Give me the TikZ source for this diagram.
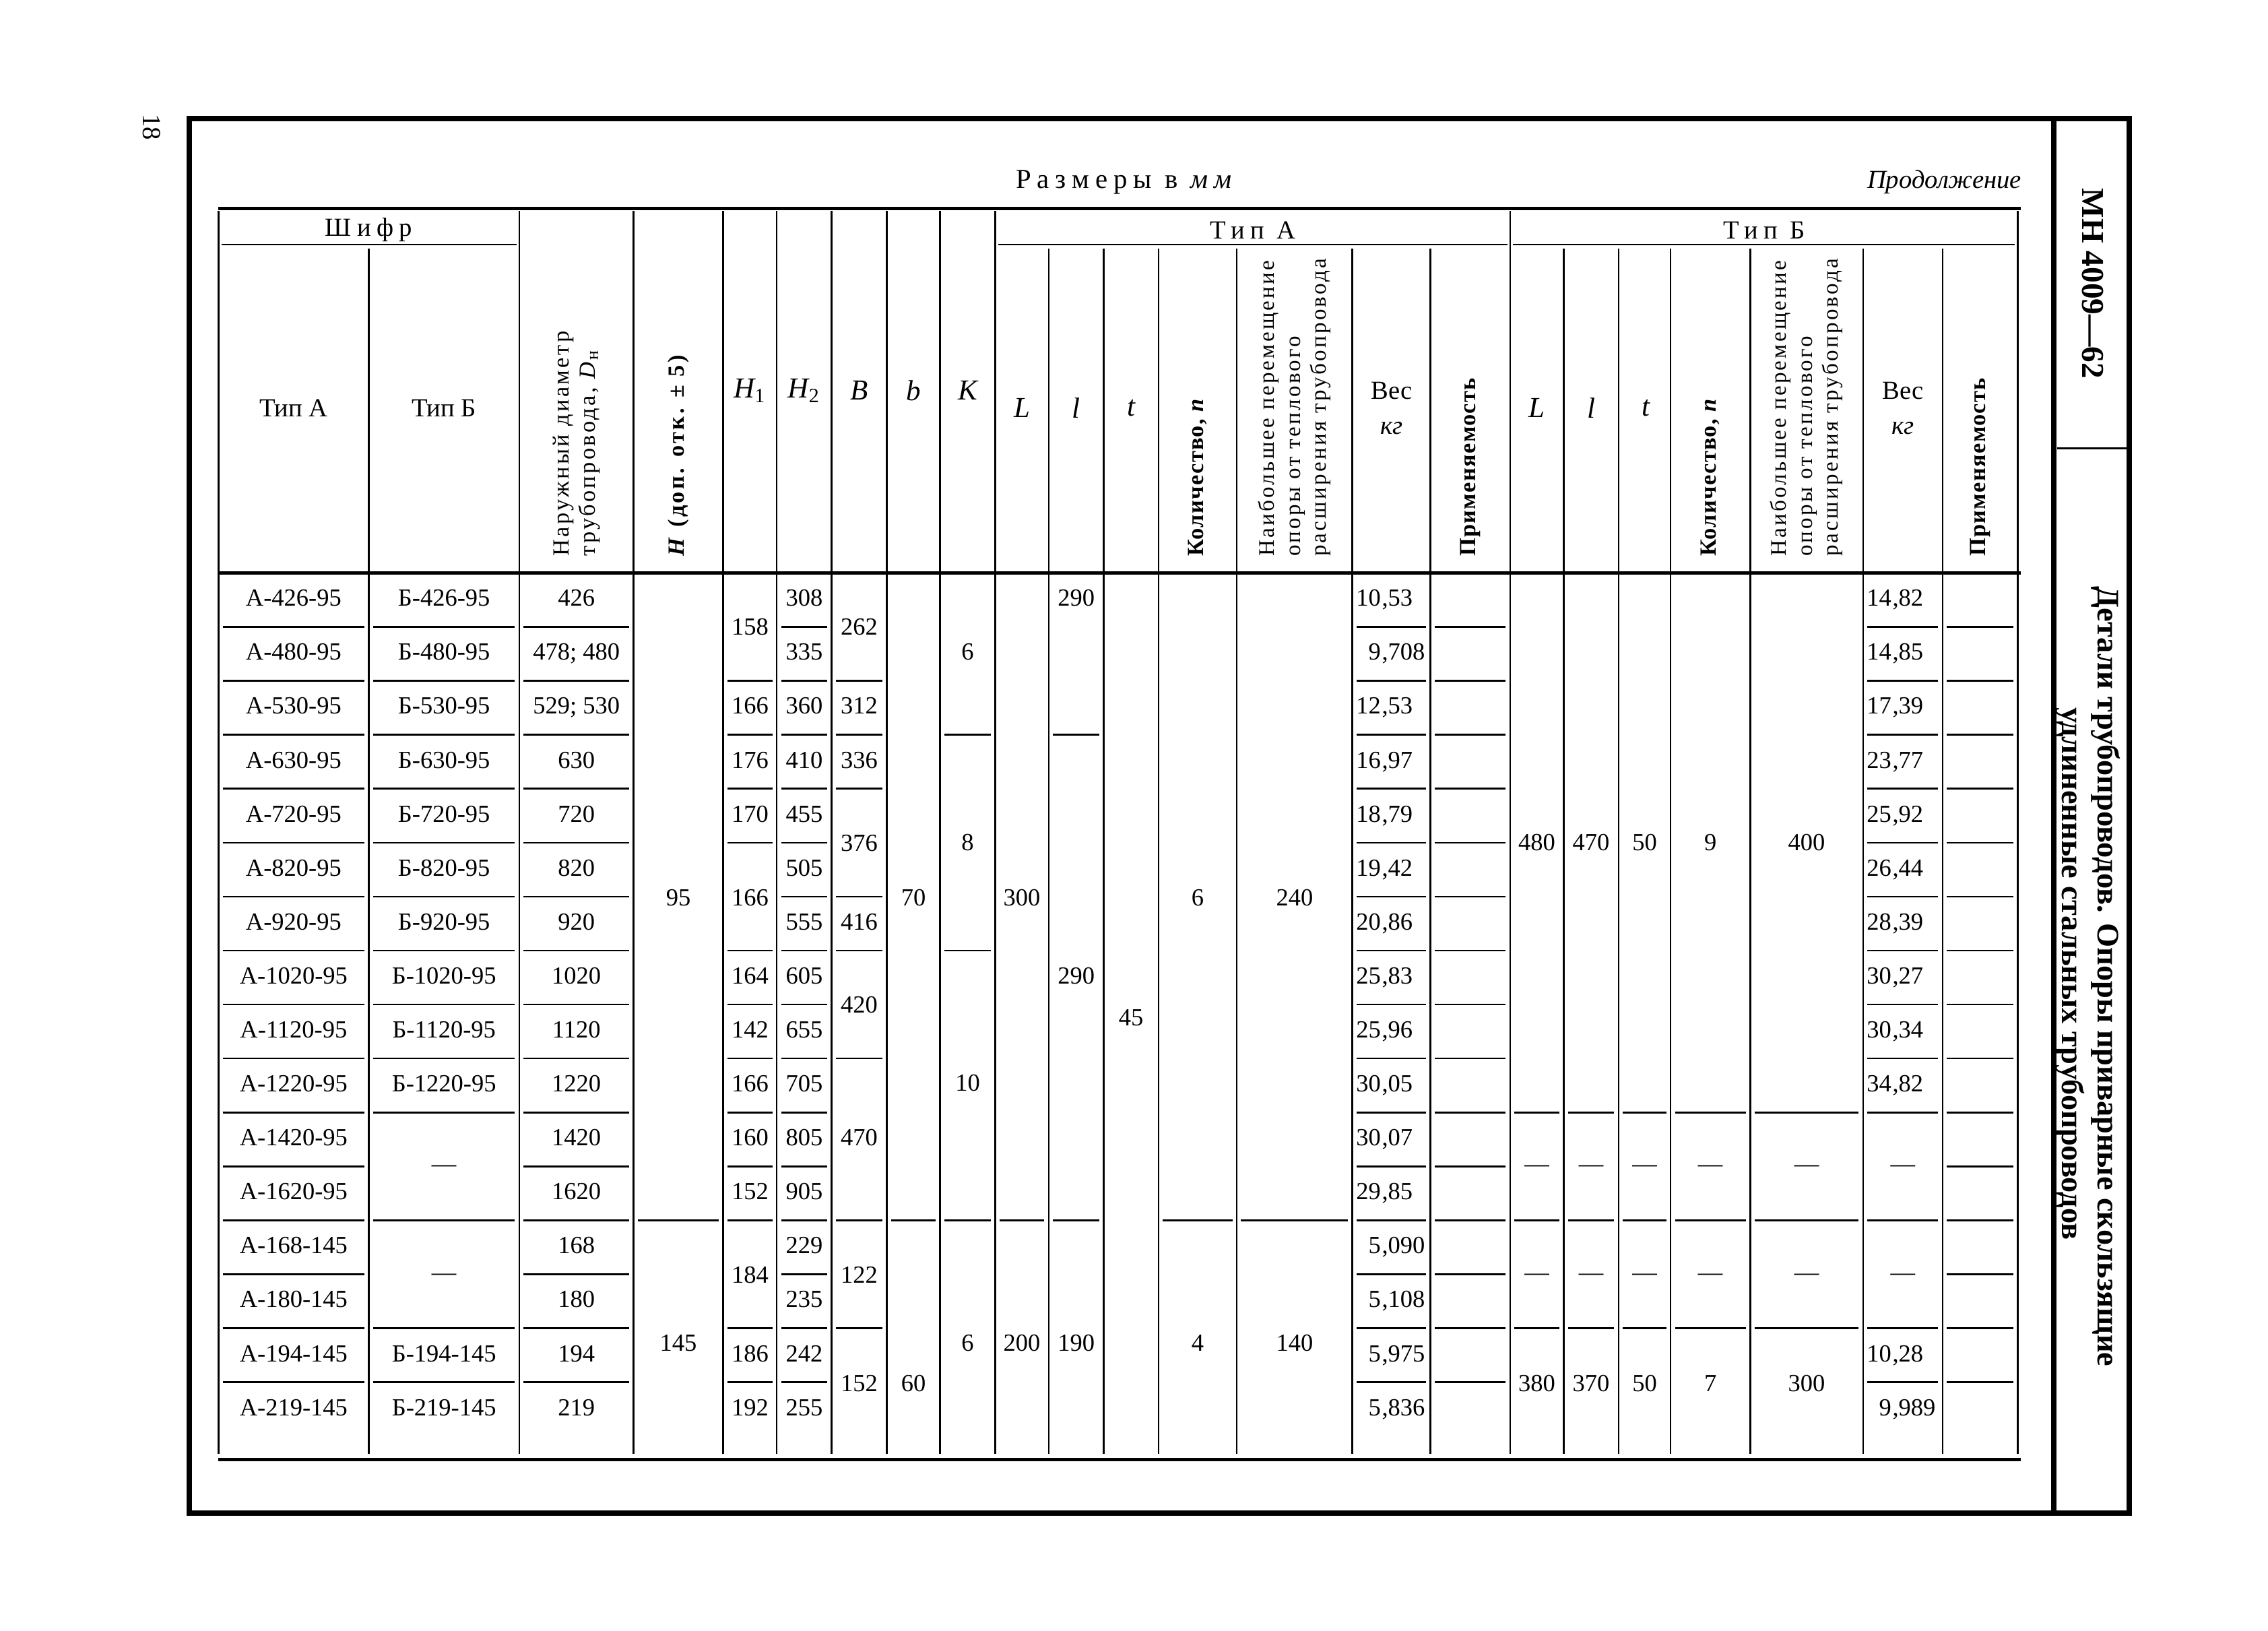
\documentclass[tikz,border=0pt]{standalone}
\usepackage{fontspec}
\setmainfont{Liberation Serif}
\newfontfamily\widefont[LetterSpace=10]{Liberation Serif}
\newfontfamily\boldwidefont[LetterSpace=4]{Liberation Serif}
\newfontfamily\spacedfont[LetterSpace=22]{Liberation Serif}
\usetikzlibrary{calc}

\tikzset{
  every node/.style={inner sep=0pt},
  cell/.style={anchor=base, font=\fontsize{8.5}{10}\selectfont},
  dashcell/.style={font=\fontsize{8.5}{10}\selectfont},
  sym/.style={font=\itshape\fontsize{10}{12}\selectfont},
  hdr/.style={rotate=90, anchor=west, align=left, font=\widefont\fontsize{8}{9.2}\selectfont},
  boldhdr/.style={hdr, font=\boldwidefont\bfseries\fontsize{8}{9.2}\selectfont},
  sepline/.style={line width=0.6pt},
  heavyrule/.style={line width=1.1pt},
  framerule/.style={line width=1.8pt}
}

\begin{document}
\begin{tikzpicture}[x=0.5pt, y=-0.5pt]
\useasboundingbox (0,0) rectangle (1568,1127);

% page frame and title block
\draw[framerule] (131,82) -- (1472,82) -- (1472,1046) -- (131,1046) -- cycle;
\draw[framerule] (1420,84) -- (1420,1044);
\draw[sepline] (1422,310) -- (1470,310);
\node[rotate=-90, font=\bfseries\fontsize{11}{12}\selectfont] (code) at (1447,196) {МН 4009—62};
\node[rotate=-90, font=\bfseries\fontsize{10.8}{12}\selectfont] (title1) at (1456,675) {Детали трубопроводов. Опоры приварные скользящие};
\node[rotate=-90, font=\bfseries\fontsize{10.8}{12}\selectfont] (title2) at (1431,673) {удлиненные стальных трубопроводов};
\node[rotate=-90, font=\fontsize{9}{10}\selectfont] (page) at (105,88) {18};

\node[font=\spacedfont\fontsize{9.5}{10}\selectfont] (units) at (779,126) {Размеры в \textit{мм}};
\node[anchor=east, font=\itshape\fontsize{9}{10}\selectfont] (cont) at (1398,126) {Продолжение};

% rules of the table
\draw[heavyrule] (151,144) -- (1397,144);
\draw[heavyrule] (151,396) -- (1397,396);
\draw[heavyrule] (151,1009) -- (1397,1009);
\foreach \x in {151,359,438,500,537,575,613,650,688,1044,1395}
  \draw[sepline] (\x,146) -- (\x,396);
\foreach \x in {255,725,763,801,855,935,989,1081,1119,1155,1210,1288,1343}
  \draw[sepline] (\x,172) -- (\x,396);
\draw[sepline] (153,169) -- (357,169);
\draw[sepline] (690,169) -- (1042,169);
\draw[sepline] (1046,169) -- (1393,169);
\foreach \x in {151,255,359,438,500,537,575,613,650,688,725,763,801,855,935,989,1044,1081,1119,1155,1210,1288,1343,1395}
  \draw[sepline] (\x,396) -- (\x,1005);

% short rules between the rows
\foreach \xl/\xr/\rows in {151/255/{1,...,15}, 255/359/{1,...,10,12,14,15}, 359/438/{1,...,15},
    438/500/{12}, 500/537/{2,3,4,5,7,8,9,10,11,12,14,15}, 537/575/{1,...,15},
    575/613/{2,3,4,6,7,9,12,14}, 613/650/{12}, 650/688/{3,7,12}, 688/725/{12}, 725/763/{3,12},
    801/855/{12}, 855/935/{12}, 935/989/{1,...,15}, 989/1044/{1,...,15},
    1044/1081/{10,12,14}, 1081/1119/{10,12,14}, 1119/1155/{10,12,14}, 1155/1210/{10,12,14},
    1210/1288/{10,12,14}, 1288/1343/{1,...,10,12,14,15}, 1343/1395/{1,...,15}}
  \foreach \k in \rows
    \draw[sepline] (\xl+3,396+37.3*\k) -- (\xr-3,396+37.3*\k);

% header
\node[font=\spacedfont\fontsize{9}{10}\selectfont] (shifr) at (255,159) {Шифр};
\node[font=\fontsize{9}{10}\selectfont] (hta) at (203,282) {Тип А};
\node[font=\fontsize{9}{10}\selectfont] (htb) at (307,282) {Тип Б};
\node[hdr] (hd) at (398.5,385) {Наружный диаметр\\трубопровода, \textit{D}\textsubscript{н}};
\node[hdr, font=\widefont\bfseries\fontsize{8}{9.2}\selectfont] (hh) at (469,385) {\textit{H} (доп. отк. ± 5)};
\node[sym] (hh1) at (518.5,270) {H\textsubscript{\upshape 1}};
\node[sym] (hh2) at (556,270) {H\textsubscript{\upshape 2}};
\node[sym] (hbb) at (594,270) {B};
\node[sym] (hsb) at (631.5,270) {b};
\node[sym] (hk) at (669,270) {K};
\node[font=\spacedfont\fontsize{9}{10}\selectfont] (grpa) at (866,159) {Тип А};
\node[font=\spacedfont\fontsize{9}{10}\selectfont] (grpb) at (1219.5,159) {Тип Б};
\foreach \s/\x in {a/688, b/1044} {
  \node[sym] (hl\s) at (\x+18.5,282) {L};
  \node[sym] (hll\s) at (\x+56,282) {l};
  \node[sym] (ht\s) at (\x+94,282) {t};
}
\node[boldhdr] (hna) at (828,385) {Количество, \textit{n}};
\node[hdr, font=\widefont\fontsize{7.7}{9}\selectfont] (hma) at (895,385) {Наибольшее перемещение\\опоры от теплового\\расширения трубопровода};
\node[font=\fontsize{9}{10}\selectfont] (hwa) at (962,270) {Вес};
\node[font=\itshape\fontsize{9}{10}\selectfont] (hkga) at (962,296) {кг};
\node[boldhdr] (hpa) at (1016.5,385) {Применяемость};
\node[boldhdr] (hnb) at (1182.5,385) {Количество, \textit{n}};
\node[hdr, font=\widefont\fontsize{7.7}{9}\selectfont] (hmb) at (1249,385) {Наибольшее перемещение\\опоры от теплового\\расширения трубопровода};
\node[font=\fontsize{9}{10}\selectfont] (hwb) at (1315.5,270) {Вес};
\node[font=\itshape\fontsize{9}{10}\selectfont] (hkgb) at (1315.5,296) {кг};
\node[boldhdr] (hpb) at (1369,385) {Применяемость};

% body, one row each
\foreach \k/\v in {0/426-95,1/480-95,2/530-95,3/630-95,4/720-95,5/820-95,6/920-95,7/1020-95,
    8/1120-95,9/1220-95,10/1420-95,11/1620-95,12/168-145,13/180-145,14/194-145,15/219-145}
  \node[cell] (sa\k) at (203,419+37.3*\k) {А-\v};
\foreach \k/\v in {0/426-95,1/480-95,2/530-95,3/630-95,4/720-95,5/820-95,6/920-95,7/1020-95,
    8/1120-95,9/1220-95,14/194-145,15/219-145}
  \node[cell] (sb\k) at (307,419+37.3*\k) {Б-\v};
\node[dashcell] (sb10) at (307,808) {—};
\node[dashcell] (sb12) at (307,883) {—};
\foreach \k/\v in {0/426,1/478; 480,2/529; 530,3/630,4/720,5/820,6/920,7/1020,8/1120,9/1220,
    10/1420,11/1620,12/168,13/180,14/194,15/219}
  \node[cell] (dn\k) at (398.5,419+37.3*\k) {\v};
\foreach \k/\v in {2/166,3/176,4/170,7/164,8/142,9/166,10/160,11/152,14/186,15/192}
  \node[cell] (ha\k) at (518.5,419+37.3*\k) {\v};
\foreach \k/\v in {0/308,1/335,2/360,3/410,4/455,5/505,6/555,7/605,8/655,9/705,10/805,11/905,
    12/229,13/235,14/242,15/255}
  \node[cell] (hb\k) at (556,419+37.3*\k) {\v};
\foreach \k/\wi/\wf in {0/10/53,1/9/708,2/12/53,3/16/97,4/18/79,5/19/42,6/20/86,7/25/83,8/25/96,
    9/30/05,10/30/07,11/29/85,12/5/090,13/5/108,14/5/975,15/5/836} {
  \node[cell, anchor=base east] (wa\k) at (955,419+37.3*\k) {\wi};
  \node[cell, anchor=base west] (wafrac\k) at (wa\k.base east) {,\wf};
}
\foreach \k/\wi/\wf in {0/14/82,1/14/85,2/17/39,3/23/77,4/25/92,5/26/44,6/28/39,7/30/27,8/30/34,
    9/34/82,14/10/28,15/9/989} {
  \node[cell, anchor=base east] (wb\k) at (1308,419+37.3*\k) {\wi};
  \node[cell, anchor=base west] (wbfrac\k) at (wb\k.base east) {,\wf};
}
\node[dashcell] (wb10) at (1315.5,808) {—};
\node[dashcell] (wb12) at (1315.5,883) {—};

% body, joined cells
\node[cell] (hm1) at (469,626) {95};
\node[cell] (hm2) at (469,934) {145};
\node[cell] (ha0) at (518.5,439) {158};
\node[cell] (ha5) at (518.5,626) {166};
\node[cell] (ha12) at (518.5,887) {184};
\node[cell] (bw0) at (594,439) {262};
\node[cell] (bw2) at (594,493.6) {312};
\node[cell] (bw3) at (594,530.9) {336};
\node[cell] (bw4) at (594,588.5) {376};
\node[cell] (bw6) at (594,642.8) {416};
\node[cell] (bw7) at (594,700.4) {420};
\node[cell] (bw9) at (594,792) {470};
\node[cell] (bw12) at (594,887) {122};
\node[cell] (bw14) at (594,962) {152};
\node[cell] (sb1) at (631.5,626) {70};
\node[cell] (sb2) at (631.5,962) {60};
\node[cell] (kk0) at (669,456) {6};
\node[cell] (kk3) at (669,588) {8};
\node[cell] (kk7) at (669,754) {10};
\node[cell] (kk12) at (669,934) {6};
\node[cell] (la1) at (706.5,626) {300};
\node[cell] (la2) at (706.5,934) {200};
\node[cell] (lla0) at (744,419) {290};
\node[cell] (lla3) at (744,680) {290};
\node[cell] (lla12) at (744,934) {190};
\node[cell] (ta) at (782,709) {45};
\node[cell] (na1) at (828,626) {6};
\node[cell] (na2) at (828,934) {4};
\node[cell] (ma1) at (895,626) {240};
\node[cell] (ma2) at (895,934) {140};
\foreach \n/\x/\p/\q in {1/1062.5/480/380, 2/1100/470/370, 3/1137/50/50, 4/1182.5/9/7, 5/1249/400/300} {
  \node[cell] (bt\n) at (\x,588) {\p};
  \node[dashcell] (bd\n) at (\x,808) {—};
  \node[dashcell] (be\n) at (\x,883) {—};
  \node[cell] (bl\n) at (\x,962) {\q};
}
\end{tikzpicture}
\end{document}
